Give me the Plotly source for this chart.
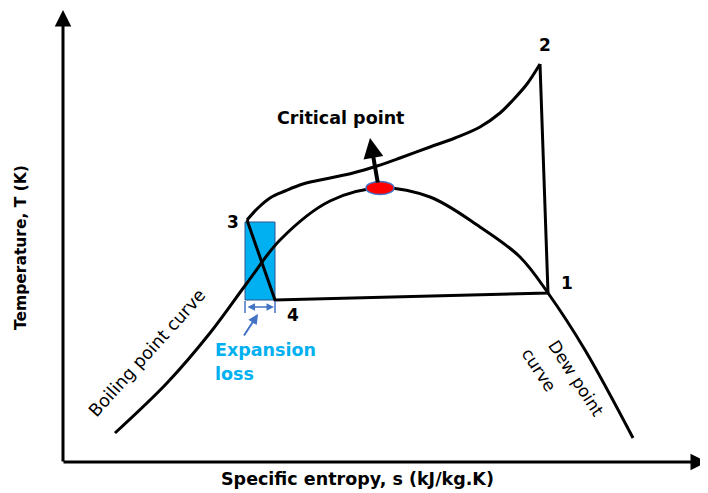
import plotly.graph_objects as go

# Schematic T-s diagram, coordinates (canvas units, y downwards)
dome_s = [115, 167, 210, 247, 280, 330, 380,
          430, 480, 520, 548, 585, 633]
dome_T = [433, 383, 333, 283, 240, 201, 188,
          197, 227, 257, 293, 350, 438]

sup_s = [247, 258, 270, 285, 303, 330, 353, 377, 400, 430, 455, 480, 500, 513, 527, 540]
sup_T = [220, 208, 198, 191, 184, 178, 173, 166, 158, 147, 138, 127, 113, 100, 84, 64]

cycle_s = [540, 548, 275, 247]   # 2 -> 1 -> 4 -> 3
cycle_T = [64, 293, 300, 220]

point_labels = ["1", "2", "3", "4"]
point_s = [567, 545, 233, 293]
point_T = [283, 45, 222, 315]

crit_s, crit_T = 380, 188
rect_s = [245, 275]
rect_T = [222, 300]
loss_T = 307

FONT = "DejaVu Sans"
PAGE_MARGIN = 8  # default body margin of the html page

fig = go.Figure()

# expansion loss rectangle
fig.add_shape(type="rect", xref="x", yref="y", x0=rect_s[0], x1=rect_s[1],
              y0=rect_T[0], y1=rect_T[1], fillcolor="#00B0F0",
              line=dict(color="#2F528F", width=1), layer="below")
# end ticks of the expansion loss dimension
for sx in rect_s:
    fig.add_shape(type="line", xref="x", yref="y", x0=sx, x1=sx, y0=loss_T - 6, y1=loss_T + 6,
                  line=dict(color="#4472C4", width=1.5))

fig.add_trace(go.Scatter(x=dome_s, y=dome_T, mode="lines",
                         line=dict(color="black", width=3, shape="spline", smoothing=1.0),
                         hoverinfo="skip"))
fig.add_trace(go.Scatter(x=sup_s, y=sup_T, mode="lines", line=dict(color="black", width=3, shape="spline"),
                         hoverinfo="skip"))
fig.add_trace(go.Scatter(x=cycle_s, y=cycle_T, mode="lines", line=dict(color="black", width=3),
                         hoverinfo="skip"))

# critical point ellipse
fig.add_shape(type="circle", xref="x", yref="y", x0=crit_s - 14, x1=crit_s + 14,
              y0=crit_T - 6.5, y1=crit_T + 6.5, fillcolor="#FF0000",
              line=dict(color="#4472C4", width=1.5))

ann = []
# axes arrows
ann.append(dict(x=63, y=10, ax=63, ay=463, xref="x", yref="y", axref="x", ayref="y",
                text="", showarrow=True, arrowhead=2, arrowsize=1.1, arrowwidth=3, arrowcolor="black"))
ann.append(dict(x=707, y=462, ax=62, ay=462, xref="x", yref="y", axref="x", ayref="y",
                text="", showarrow=True, arrowhead=2, arrowsize=1.1, arrowwidth=3, arrowcolor="black"))
# critical point arrow
ann.append(dict(x=370, y=138, ax=378, ay=184, xref="x", yref="y", axref="x", ayref="y",
                text="", showarrow=True, arrowhead=2, arrowsize=1, arrowwidth=4, arrowcolor="black"))
# expansion loss arrows
ann.append(dict(x=rect_s[1] - 1, y=loss_T, ax=rect_s[0] + 1, ay=loss_T, xref="x", yref="y",
                axref="x", ayref="y", text="", showarrow=True, arrowhead=2, arrowside="end+start",
                arrowsize=1, arrowwidth=1.5, arrowcolor="#4472C4"))
ann.append(dict(x=258, y=314, ax=243, ay=337, xref="x", yref="y", axref="x", ayref="y",
                text="", showarrow=True, arrowhead=2, arrowsize=1, arrowwidth=2, arrowcolor="#4472C4"))

for lab, sx, ty in zip(point_labels, point_s, point_T):
    ann.append(dict(x=sx, y=ty, xref="x", yref="y", text="<b>%s</b>" % lab, showarrow=False,
                    font=dict(family=FONT, size=17, color="black")))

ann.append(dict(x=340, y=118, xref="x", yref="y", text="<b>Critical point</b>", showarrow=False,
                font=dict(family=FONT, size=17.5, color="black")))
ann.append(dict(x=357, y=479, xref="x", yref="y", text="<b>Specific entropy, s (kJ/kg.K)</b>",
                showarrow=False, font=dict(family=FONT, size=17.5, color="black")))
ann.append(dict(x=21, y=248, xref="x", yref="y", text="<b>Temperature, T (K)</b>", textangle=-90,
                showarrow=False, font=dict(family=FONT, size=15.5, color="black")))
ann.append(dict(x=147, y=353, xref="x", yref="y", text="Boiling point curve", textangle=-48,
                showarrow=False, font=dict(family=FONT, size=17.5, color="black")))
ann.append(dict(x=576, y=378, xref="x", yref="y", text="Dew point", textangle=57,
                showarrow=False, font=dict(family=FONT, size=17, color="black")))
ann.append(dict(x=539, y=370, xref="x", yref="y", text="curve", textangle=57,
                showarrow=False, font=dict(family=FONT, size=17, color="black")))
ann.append(dict(x=213, y=350, xref="x", yref="y", text="<b>Expansion</b>", xanchor="left",
                showarrow=False, font=dict(family=FONT, size=17.5, color="#00B0F0")))
ann.append(dict(x=213, y=374, xref="x", yref="y", text="<b>loss</b>", xanchor="left",
                showarrow=False, font=dict(family=FONT, size=17.5, color="#00B0F0")))

W, H = 708, 493
fig.update_layout(
    width=W - PAGE_MARGIN, height=H - PAGE_MARGIN, margin=dict(l=0, r=0, t=0, b=0),
    paper_bgcolor="white", plot_bgcolor="white", showlegend=False,
    xaxis=dict(range=[PAGE_MARGIN, W], visible=False, fixedrange=True),
    yaxis=dict(range=[H, PAGE_MARGIN], visible=False, fixedrange=True),
    annotations=ann,
)

fig.write_html("out.html")
